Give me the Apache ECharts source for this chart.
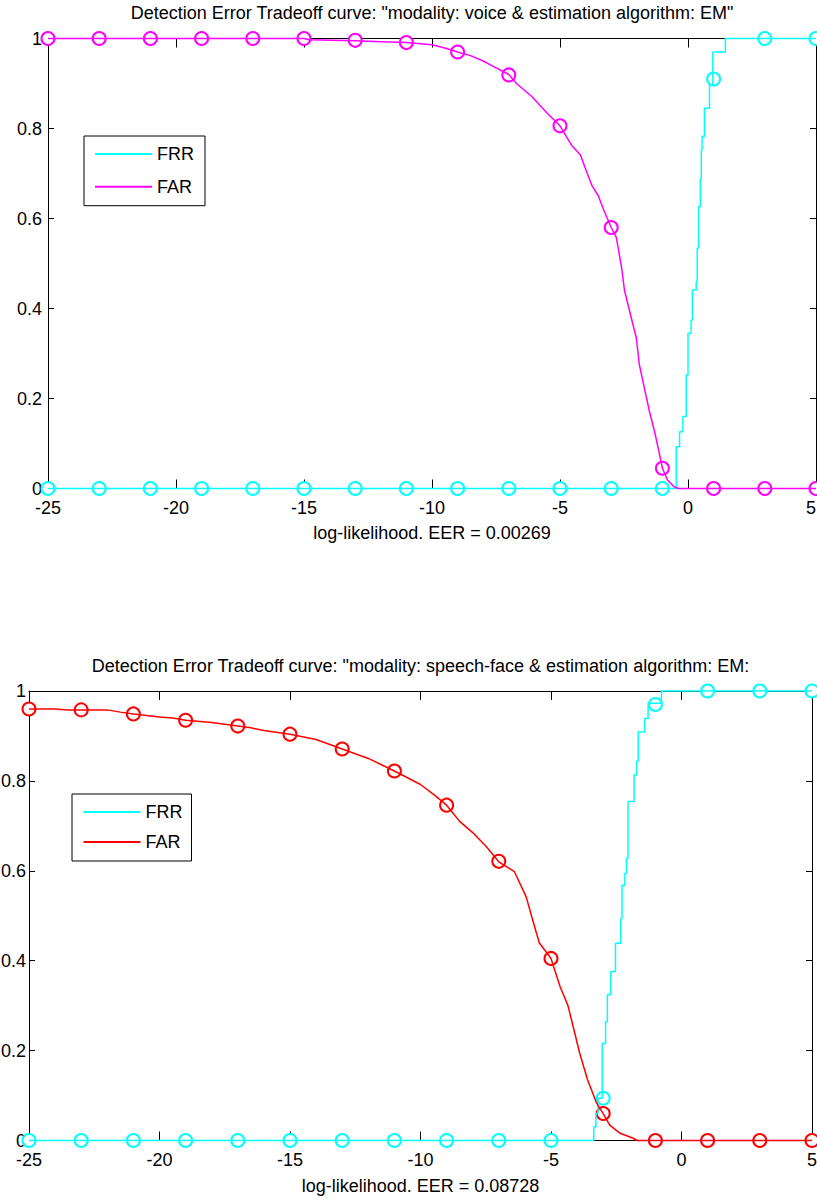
<!DOCTYPE html>
<html lang="en">
<head>
<meta charset="UTF-8">
<title>Detection Error Tradeoff curves</title>
<style>
    html, body { margin: 0; padding: 0; background: #fff; }
    .plot { width: 817px; height: 600px; }
</style>
</head>
<body>
<div id="voice" class="plot"></div>
<div id="speechFace" class="plot"></div>

<script src="https://cdn.jsdelivr.net/npm/echarts@6/dist/echarts.min.js"></script>
<script>
// x positions of the circle markers (same for both plots)
var markX = [-25, -23, -21, -19, -17, -15, -13, -11, -9, -7, -5, -3, -1, 1, 3, 5];

// ---- voice / EM ----
var voiceFrrMarks = [0, 0, 0, 0, 0, 0, 0, 0, 0, 0, 0, 0, 0, 0.91, 1, 1];
var voiceFarMarks = [1, 1, 1, 1, 1, 1, 0.996, 0.991, 0.97, 0.919, 0.806, 0.58, 0.045, 0, 0, 0];
// FRR is a staircase: [threshold, value after the jump]
var voiceFrr = [
    [-25, 0], [-0.46, 0.093], [-0.33, 0.126], [-0.2, 0.16], [-0.07, 0.252], [0, 0.345],
    [0.12, 0.374], [0.17, 0.441], [0.32, 0.46], [0.36, 0.534], [0.41, 0.626], [0.48, 0.689],
    [0.52, 0.752], [0.55, 0.782], [0.64, 0.845], [0.84, 0.897], [0.97, 0.97], [1.46, 1], [5, 1]
];
var voiceFar = [
    [-25, 1], [-15, 1], [-14.8, 0.997], [-13, 0.995], [-12, 0.993], [-11, 0.991], [-10, 0.986],
    [-9.5, 0.979], [-9, 0.97], [-8.5, 0.962], [-8, 0.95], [-7.7, 0.941], [-7, 0.92], [-6.7, 0.9],
    [-6.1, 0.871], [-5.5, 0.834], [-5, 0.806], [-4.55, 0.763], [-4.2, 0.741], [-4, 0.71],
    [-3.75, 0.673], [-3.5, 0.65], [-3.3, 0.62], [-3, 0.58], [-2.8, 0.558], [-2.6, 0.493],
    [-2.48, 0.44], [-2.22, 0.38], [-2.02, 0.335], [-1.9, 0.275], [-1.7, 0.222], [-1.5, 0.17],
    [-1.3, 0.125], [-1.12, 0.078], [-1, 0.045], [-0.8, 0.019], [-0.55, 0.004], [-0.37, 0], [5, 0]
];

// ---- speech-face / EM ----
var sfFrrMarks = [0, 0, 0, 0, 0, 0, 0, 0, 0, 0, 0, 0.094, 0.97, 1, 1, 1];
var sfFarMarks = [0.96, 0.958, 0.949, 0.935, 0.922, 0.904, 0.871, 0.822, 0.746, 0.621, 0.405, 0.06, 0, 0, 0, 0];
var sfFrr = [
    [-25, 0], [-3.36, 0.03], [-3.28, 0.06], [-3.2, 0.094], [-3.04, 0.216], [-2.91, 0.264],
    [-2.84, 0.324], [-2.71, 0.376], [-2.53, 0.439], [-2.33, 0.494], [-2.28, 0.568], [-2.17, 0.594],
    [-2.11, 0.628], [-2.05, 0.754], [-1.82, 0.813], [-1.72, 0.843], [-1.66, 0.909], [-1.41, 0.939],
    [-1.28, 0.973], [-0.77, 1], [5, 1]
];
var sfFar = [
    [-25, 0.96], [-24, 0.96], [-23.5, 0.958], [-23, 0.958], [-22, 0.958], [-21.5, 0.953], [-21, 0.949],
    [-20, 0.942], [-19.5, 0.94], [-19, 0.935], [-18, 0.93], [-17, 0.922], [-16.5, 0.918], [-16, 0.912],
    [-15, 0.904], [-14, 0.892], [-13, 0.871], [-12, 0.85], [-11, 0.822], [-10, 0.792], [-9.5, 0.77],
    [-9, 0.746], [-8.5, 0.71], [-8, 0.685], [-7.5, 0.655], [-7, 0.62], [-6.4, 0.598], [-5.95, 0.542],
    [-5.7, 0.49], [-5.45, 0.44], [-5, 0.405], [-4.65, 0.342], [-4.35, 0.3], [-4.15, 0.253], [-3.9, 0.194],
    [-3.6, 0.135], [-3.25, 0.083], [-3, 0.06], [-2.75, 0.034], [-2.35, 0.016], [-1.85, 0.005], [-1.7, 0], [5, 0]
];

var FONT = 'Liberation Sans, Arial, Helvetica, sans-serif';

function pairs(ys) {
    return markX.map(function (x, i) { return [x, ys[i]]; });
}

function frameX(pos, name, nameGap, showLabel, lastAlign) {
    return {
        type: 'value', position: pos, min: -25, max: 5, interval: 5,
        name: name, nameLocation: 'middle', nameGap: nameGap,
        nameTextStyle: { fontSize: 18, color: '#000', fontFamily: FONT },
        axisLine: { onZero: false, lineStyle: { color: '#000', width: 1 } },
        axisTick: { show: true, inside: true, length: 9, lineStyle: { color: '#000' } },
        axisLabel: {
            show: showLabel, margin: 12, fontSize: 18, lineHeight: 14, color: '#000', fontFamily: FONT,
            alignMaxLabel: lastAlign || null
        },
        splitLine: { show: false }
    };
}

function frameY(pos, showLabel, margin) {
    return {
        type: 'value', position: pos, min: 0, max: 1, interval: 0.2,
        axisLine: { onZero: false, lineStyle: { color: '#000', width: 1 } },
        axisTick: { show: true, inside: true, length: 6, lineStyle: { color: '#000' } },
        axisLabel: { show: showLabel, margin: margin || 6, fontSize: 18, lineHeight: 14, color: '#000', fontFamily: FONT },
        splitLine: { show: false }
    };
}

function lineSeries(name, data, color, step) {
    return {
        name: name, type: 'line', data: data, step: step || false,
        symbol: 'none', clip: false, silent: true,
        lineStyle: { color: color, width: 1.5 },
        itemStyle: { color: color }
    };
}

function markSeries(name, ys, color) {
    return {
        name: name, type: 'scatter', data: pairs(ys), clip: false, silent: true,
        symbol: 'emptyCircle', symbolSize: 13,
        itemStyle: { color: color, borderWidth: 1.5, opacity: 1 }
    };
}

function drawPlot(id, cfg) {
    var chart = echarts.init(document.getElementById(id), null, { renderer: 'svg' });
    var grid = cfg.grid;
    grid.outerBoundsMode = 'none';
    grid.containLabel = false;
    chart.setOption({
        animation: false,
        backgroundColor: '#fff',
        textStyle: { fontFamily: FONT },
        title: {
            text: cfg.title, left: cfg.titleX, top: cfg.titleTop, padding: 0,
            textAlign: 'center',
            textStyle: { fontSize: 18, fontWeight: 'normal', color: '#000', fontFamily: FONT }
        },
        grid: grid,
        legend: {
            data: ['FRR', 'FAR'], orient: 'vertical', icon: 'rect',
            left: cfg.legend.left, top: cfg.legend.top, padding: cfg.legend.padding,
            itemWidth: 57, itemHeight: 2, itemGap: cfg.legend.gap,
            backgroundColor: '#fff', borderColor: '#000', borderWidth: 1, borderRadius: 0,
            selectedMode: false,
            textStyle: { fontSize: 18, color: '#000', fontFamily: FONT }
        },
        xAxis: [frameX('bottom', cfg.xName, cfg.nameGap, true, cfg.lastAlign), frameX('top', '', 0, false)],
        yAxis: [frameY('left', true, cfg.yMargin), frameY('right', false)],
        series: [
            lineSeries('FRR', cfg.frr, '#00ffff', 'end'),
            lineSeries('FAR', cfg.far, cfg.farColor),
            markSeries('FRR marks', cfg.frrMarks, '#00ffff'),
            markSeries('FAR marks', cfg.farMarks, cfg.farColor)
        ]
    });
}

drawPlot('voice', {
    title: 'Detection Error Tradeoff curve: "modality: voice & estimation algorithm: EM"',
    titleX: 432, titleTop: 4,
    grid: { left: 48, top: 38.5, width: 768, height: 450 },
    xName: 'log-likelihood. EER = 0.00269', nameGap: 35, lastAlign: 'right', yMargin: 6,
    legend: { left: 84, top: 136, padding: [9, 11, 10, 11], gap: 14.7 },
    frr: voiceFrr, far: voiceFar, farColor: '#ff00ff',
    frrMarks: voiceFrrMarks, farMarks: voiceFarMarks
});

drawPlot('speechFace', {
    title: 'Detection Error Tradeoff curve: "modality: speech-face & estimation algorithm: EM:',
    titleX: 420.5, titleTop: 57,
    grid: { left: 29, top: 91, width: 783, height: 449.5 },
    xName: 'log-likelihood. EER = 0.08728', nameGap: 36, yMargin: 3,
    legend: { left: 72, top: 194, padding: [9, 9, 10, 11.5], gap: 12 },
    frr: sfFrr, far: sfFar, farColor: '#ff0000',
    frrMarks: sfFrrMarks, farMarks: sfFarMarks
});
</script>
</body>
</html>
